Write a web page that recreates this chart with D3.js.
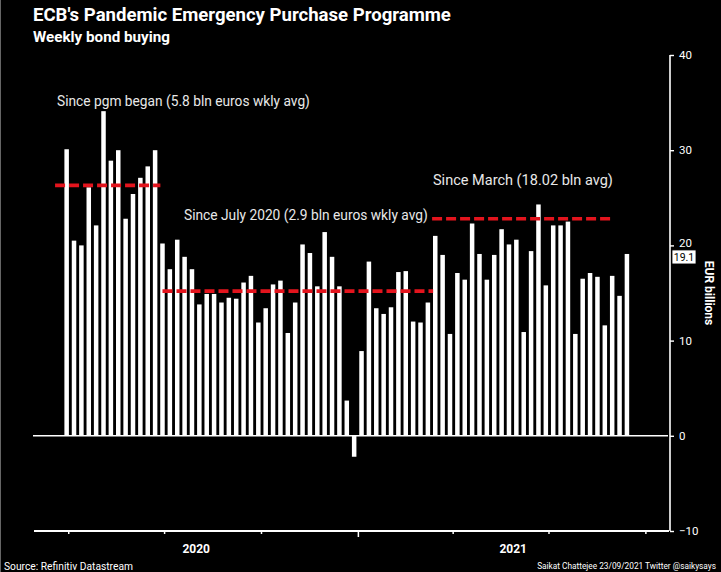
<!DOCTYPE html>
<html><head><meta charset="utf-8">
<script src="https://cdn.jsdelivr.net/npm/d3@7"></script>
<style>
html,body{margin:0;padding:0;background:#000;}
svg{display:block;}
text{font-family:Roboto,"Open Sans",sans-serif;}
</style></head><body>
<svg id="c" width="721" height="572"></svg>
<script>
// Week-ending dates (Fridays)
const weeks = [
"2020-04-03","2020-04-10","2020-04-17","2020-04-24","2020-05-01","2020-05-08","2020-05-15","2020-05-22","2020-05-29",
"2020-06-05","2020-06-12","2020-06-19","2020-06-26","2020-07-03","2020-07-10","2020-07-17","2020-07-24","2020-07-31",
"2020-08-07","2020-08-14","2020-08-21","2020-08-28","2020-09-04","2020-09-11","2020-09-18","2020-09-25",
"2020-10-02","2020-10-09","2020-10-16","2020-10-23","2020-10-30","2020-11-06","2020-11-13","2020-11-20","2020-11-27",
"2020-12-04","2020-12-11","2020-12-18","2020-12-25",
"2021-01-01","2021-01-08","2021-01-15","2021-01-22","2021-01-29","2021-02-05","2021-02-12","2021-02-19","2021-02-26",
"2021-03-05","2021-03-12","2021-03-19","2021-03-26","2021-04-02","2021-04-09","2021-04-16","2021-04-23","2021-04-30",
"2021-05-07","2021-05-14","2021-05-21","2021-05-28","2021-06-04","2021-06-11","2021-06-18","2021-06-25",
"2021-07-02","2021-07-09","2021-07-16","2021-07-23","2021-07-30","2021-08-06","2021-08-13","2021-08-20","2021-08-27",
"2021-09-03","2021-09-10","2021-09-17"
];
// Weekly net purchases, EUR billions
const purchases = [
30.1,20.5,20.0,26.1,22.1,34.1,28.9,30.0,22.8,25.4,27.1,28.3,30.0,20.2,17.5,20.6,18.8,17.5,13.8,
14.9,14.9,14.0,14.5,14.4,16.1,16.8,11.9,13.4,15.9,16.3,10.8,14.0,20.1,19.2,15.7,21.4,18.8,15.7,
3.7,-2.2,8.9,18.3,13.4,12.8,13.5,17.2,17.3,12.0,11.9,14.0,21.0,19.0,10.7,17.1,16.4,22.3,19.1,
16.4,19.0,21.7,20.1,20.6,10.9,19.4,24.3,15.8,22.1,22.1,22.5,10.7,16.5,17.1,16.7,11.6,16.8,14.7,19.1
];
const yTicks = [-10,0,10,20,30,40];
const yearLabels = ["2020","2021"];
const avgLabels = ["Since pgm began (5.8 bln euros wkly avg)","Since July 2020 (2.9 bln euros wkly avg)","Since March (18.02 bln avg)"];
const avgValues = [26.3,15.2,22.8];
const avgStart = ["2020-03-19","2020-06-29","2021-03-12"];
const avgEnd = ["2020-06-27","2021-03-13","2021-08-29"];
const lastLabel = "19.1";

const parse = d3.timeParse("%Y-%m-%d");
const svg = d3.select("#c");
const W = 721, H = 572;
svg.append("rect").attr("width",W).attr("height",H).attr("fill","#000");
svg.append("line").attr("x1",0.5).attr("x2",0.5).attr("y1",0).attr("y2",H).attr("stroke","#666").attr("stroke-width",1);

const x = d3.scaleTime().domain([parse("2020-02-28"), parse("2021-10-22")]).range([34, 668]);
const y = d3.scaleLinear().domain([-10, 40]).range([531, 55]);

function fit(sel, w){
  const n = sel.node(); const cur = n.getComputedTextLength();
  const fs = parseFloat(sel.attr("font-size"));
  sel.attr("font-size", (fs*w/cur).toFixed(2));
  return sel;
}

// Title
fit(svg.append("text").attr("x",33).attr("y",21).attr("fill","#fff").attr("font-weight","bold").attr("font-size",18)
  .text("ECB's Pandemic Emergency Purchase Programme"), 418);
fit(svg.append("text").attr("x",33).attr("y",42).attr("fill","#fff").attr("font-weight","bold").attr("font-size",14)
  .text("Weekly bond buying"), 137);

// Bars
const data = weeks.map((w,i)=>({date:d3.timeHour.offset(parse(w), -96), v:purchases[i]}));
const bw = 4.5;
svg.append("g").selectAll("rect").data(data).join("rect")
  .attr("x", d=>x(d.date)-bw/2).attr("width", bw)
  .attr("y", d=>y(Math.max(0,d.v))).attr("height", d=>Math.abs(y(d.v)-y(0)))
  .attr("fill","#fff");

// Zero line
svg.append("line").attr("x1",33).attr("x2",668).attr("y1",y(0)).attr("y2",y(0)).attr("stroke","#fff").attr("stroke-width",1.5);

// Average lines
avgValues.forEach((v,i)=>{
  svg.append("line").attr("x1",x(parse(avgStart[i]))).attr("x2",x(parse(avgEnd[i])))
    .attr("y1",y(v)).attr("y2",y(v)).attr("stroke","#e3141d").attr("stroke-width",3.6)
    .attr("stroke-dasharray","10,4");
});
const labPos = [[57,106,253],[184,220,244],[433,185,180]];
avgLabels.forEach((t,i)=>{
  fit(svg.append("text").attr("x",labPos[i][0]).attr("y",labPos[i][1]).attr("fill","#e8e8e8").attr("font-size",13).text(t), labPos[i][2]);
});

// Y axis
const ya = svg.append("g").attr("transform","translate(670,0)")
  .call(d3.axisRight(y).tickValues(yTicks).tickSize(4).tickPadding(5).tickFormat(d3.format("d")));
ya.select(".domain").attr("stroke","#fff").attr("stroke-width",1.6).attr("d","M0,55V531");
ya.selectAll(".tick line").attr("stroke","#fff").attr("stroke-width",1.4);
ya.selectAll(".tick text").attr("fill","#fff").attr("font-size",11.5).attr("font-family","Roboto,sans-serif");
ya.selectAll(".tick text").filter(d=>d===20).attr("dy","0.1em");

svg.append("text").attr("transform","translate(705,293) rotate(90)").attr("text-anchor","middle")
  .attr("fill","#fff").attr("font-weight","bold").attr("font-size",12).text("EUR billions");

// Last value box
const lv = purchases[purchases.length-1];
svg.append("rect").attr("x",672).attr("y",y(lv)-4).attr("width",24).attr("height",14).attr("fill","#fff").attr("stroke","#000").attr("stroke-width",0.8);
svg.append("text").attr("x",684).attr("y",y(lv)+7).attr("text-anchor","middle").attr("fill","#000").attr("font-size",10.5).text(lastLabel);

// X axis
svg.append("line").attr("x1",34).attr("x2",669).attr("y1",531).attr("y2",531).attr("stroke","#fff").attr("stroke-width",2);
const qTicks = x.ticks(d3.timeMonth.every(3)).filter(d=>x(d)>40 && x(d)<666);
svg.append("g").selectAll("line").data(qTicks).join("line")
  .attr("x1",d=>x(d)).attr("x2",d=>x(d)).attr("y1",531)
  .attr("y2",d=>d.getMonth()===0?537:534).attr("stroke","#fff").attr("stroke-width",1.5);
const yearBounds = [x.domain()[0], parse("2021-01-01"), x.domain()[1]];
yearLabels.forEach((t,i)=>{
  svg.append("text").attr("x",(x(yearBounds[i])+x(yearBounds[i+1]))/2).attr("y",553).attr("text-anchor","middle")
    .attr("fill","#fff").attr("font-weight","bold").attr("font-size",12).text(t);
});

// Footer
fit(svg.append("text").attr("x",4).attr("y",570).attr("fill","#fff").attr("font-size",11).text("Source: Refinitiv Datastream"),129);
const cr = svg.append("text").attr("x",716).attr("y",569).attr("text-anchor","end").attr("fill","#fff").attr("font-size",10)
  .text("Saikat Chattejee 23/09/2021 Twitter @saikysays");
fit(cr,179);
</script>
</body></html>
